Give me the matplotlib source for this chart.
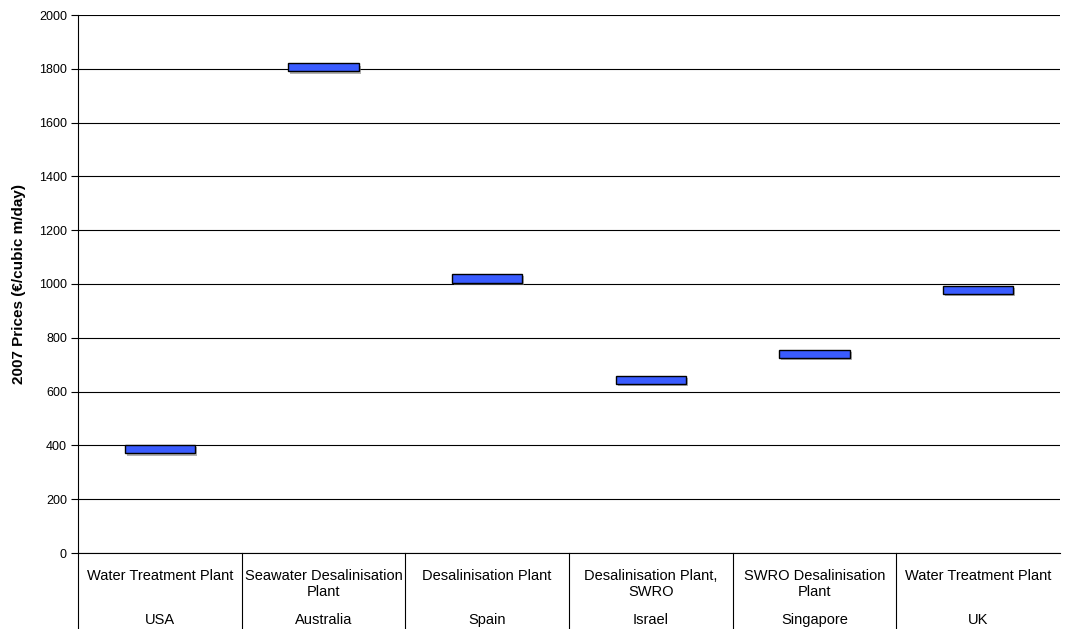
import matplotlib
matplotlib.use("Agg")
import matplotlib.pyplot as plt
import matplotlib.patheffects as pe
from matplotlib.transforms import blended_transform_factory

# Plant types and countries (two-level category axis)
plants = ["Water Treatment Plant", "Seawater Desalinisation\nPlant", "Desalinisation Plant",
          "Desalinisation Plant,\nSWRO", "SWRO Desalinisation\nPlant", "Water Treatment Plant"]
countries = ["USA", "Australia", "Spain", "Israel", "Singapore", "UK"]

# Price range per plant (2007 prices, EUR per cubic m/day)
low_prices = [370, 1790, 1005, 630, 725, 963]
high_prices = [400, 1820, 1037, 658, 755, 993]

y_ticks = [0, 200, 400, 600, 800, 1000, 1200, 1400, 1600, 1800, 2000]

plt.rcParams["font.family"] = ["Liberation Sans", "DejaVu Sans"]

W, H = 1067, 629
fig = plt.figure(figsize=(W / 100, H / 100), dpi=100)
left_px, right_px, top_px, bottom_px = 78, 1060, 15, 553
ax = fig.add_axes([left_px / W, 1 - bottom_px / H,
                   (right_px - left_px) / W, (bottom_px - top_px) / H])

x = list(range(len(countries)))
heights = [h - l for l, h in zip(low_prices, high_prices)]
bars = ax.bar(x, heights, bottom=low_prices, width=0.43, color="#3A5CFF",
              edgecolor="black", linewidth=1.0, zorder=3)
for b in bars:
    b.set_path_effects([pe.SimplePatchShadow(offset=(1.5, -1.5), shadow_rgbFace="0.5", alpha=0.6),
                        pe.Normal()])

ax.set_xlim(-0.5, len(countries) - 0.5)
ax.set_ylim(0, 2000)
ax.set_yticks(y_ticks)
ax.set_yticklabels([str(t) for t in y_ticks], fontsize=9)
ax.tick_params(axis="y", direction="out", length=5, width=0.8, pad=3, color="black")
ax.set_xticks([])
ax.yaxis.grid(True, color="black", linewidth=0.8)
ax.set_axisbelow(True)
for side in ("top", "right", "bottom"):
    ax.spines[side].set_visible(False)
ax.spines["left"].set_linewidth(0.8)
ax.axhline(0, color="black", linewidth=0.8, zorder=2, clip_on=False)

ax.set_ylabel("2007 Prices (€/cubic m/day)", fontsize=11, fontweight="bold", labelpad=9)

plot_h = bottom_px - top_px
tr = blended_transform_factory(ax.transData, ax.transAxes)
for i, (p, c) in enumerate(zip(plants, countries)):
    ax.text(i, -16 / plot_h, p, transform=tr, ha="center", va="top",
            fontsize=10.5, linespacing=1.15)
    ax.text(i, -67 / plot_h, c, transform=tr, ha="center", va="center", fontsize=10.5)

for xb in [i - 0.5 for i in range(len(countries))]:
    ax.plot([xb, xb], [0, -(H - bottom_px) / plot_h], transform=tr,
            color="black", linewidth=0.8, clip_on=False)

fig.savefig("out.png", dpi=100)
